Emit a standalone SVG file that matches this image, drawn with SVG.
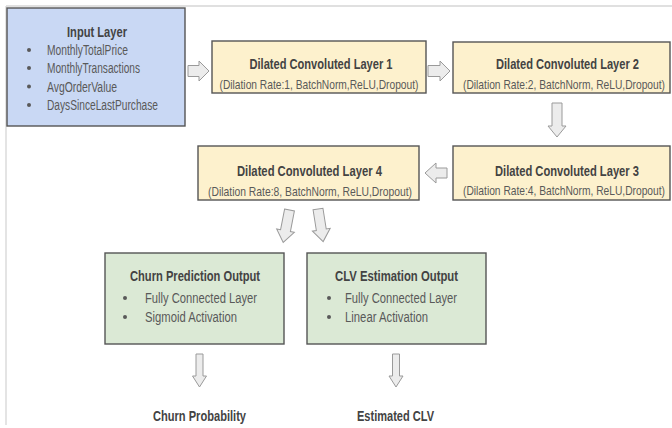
<svg xmlns="http://www.w3.org/2000/svg" width="672" height="428" viewBox="0 0 672 428">
<style>
text{font-family:"Liberation Sans Narrow","Liberation Sans",Arial,sans-serif;}
.t{font-size:15.5px;font-weight:bold;fill:#434343;text-anchor:middle;}
.s{font-size:13.5px;fill:#595959;text-anchor:middle;}
.i{font-size:14px;fill:#595959;}
.o{font-size:15px;font-weight:bold;fill:#434343;text-anchor:middle;}
.box{stroke:#555555;stroke-width:1.4;}
.blue{fill:#c9d8f4;}
.yel{fill:#fdf1cd;}
.grn{fill:#dbe9d5;}
.arr{fill:#ececec;stroke:#9a9a9a;stroke-width:1;stroke-linejoin:miter;}
.dot{fill:#595959;}
</style>
<rect width="672" height="428" fill="#ffffff"/>
<g id="page" stroke="#d6d6d6" stroke-width="1.3" fill="none">
<line x1="6" y1="6" x2="672" y2="6"/>
<line x1="6" y1="6" x2="6" y2="425"/>
</g>
<g id="input">
<rect class="box blue" x="7" y="8" width="178" height="118"/>
<text class="t" x="97" y="37" textLength="60" lengthAdjust="spacingAndGlyphs">Input Layer</text>
<circle class="dot" cx="29" cy="50" r="2"/><text class="i" x="47" y="55" textLength="81" lengthAdjust="spacingAndGlyphs">MonthlyTotalPrice</text>
<circle class="dot" cx="29" cy="68" r="2"/><text class="i" x="47" y="73" textLength="93" lengthAdjust="spacingAndGlyphs">MonthlyTransactions</text>
<circle class="dot" cx="29" cy="86.5" r="2"/><text class="i" x="47" y="91.5" textLength="70" lengthAdjust="spacingAndGlyphs">AvgOrderValue</text>
<circle class="dot" cx="29" cy="105" r="2"/><text class="i" x="47" y="110" textLength="111" lengthAdjust="spacingAndGlyphs">DaysSinceLastPurchase</text>
</g>
<g id="layer1">
<rect class="box yel" x="212" y="41" width="214" height="52"/>
<text class="t" x="321" y="68.5" textLength="143" lengthAdjust="spacingAndGlyphs">Dilated Convoluted Layer 1</text>
<text class="s" x="319" y="89" textLength="199" lengthAdjust="spacingAndGlyphs">(Dilation Rate:1, BatchNorm,ReLU,Dropout)</text>
</g>
<g id="layer2">
<rect class="box yel" x="453" y="42" width="217" height="51"/>
<text class="t" x="567.5" y="68.5" textLength="143" lengthAdjust="spacingAndGlyphs">Dilated Convoluted Layer 2</text>
<text class="s" x="564" y="89" textLength="202" lengthAdjust="spacingAndGlyphs">(Dilation Rate:2, BatchNorm, ReLU,Dropout)</text>
</g>
<g id="layer3">
<rect class="box yel" x="453" y="146" width="217" height="54"/>
<text class="t" x="567" y="175.5" textLength="144" lengthAdjust="spacingAndGlyphs">Dilated Convoluted Layer 3</text>
<text class="s" x="564" y="195" textLength="202" lengthAdjust="spacingAndGlyphs">(Dilation Rate:4, BatchNorm, ReLU,Dropout)</text>
</g>
<g id="layer4">
<rect class="box yel" x="198" y="146" width="221" height="54"/>
<text class="t" x="309.5" y="175.5" textLength="145" lengthAdjust="spacingAndGlyphs">Dilated Convoluted Layer 4</text>
<text class="s" x="310" y="196" textLength="204" lengthAdjust="spacingAndGlyphs">(Dilation Rate:8, BatchNorm, ReLU,Dropout)</text>
</g>
<g id="churn">
<rect class="box grn" x="105" y="253" width="179" height="91"/>
<text class="t" x="195" y="280.5" textLength="130" lengthAdjust="spacingAndGlyphs">Churn Prediction Output</text>
<circle class="dot" cx="125" cy="298" r="2"/><text class="i" x="145" y="303" textLength="112" lengthAdjust="spacingAndGlyphs">Fully Connected Layer</text>
<circle class="dot" cx="125" cy="317" r="2"/><text class="i" x="145" y="322" textLength="92" lengthAdjust="spacingAndGlyphs">Sigmoid Activation</text>
</g>
<g id="clv">
<rect class="box grn" x="307" y="253" width="179" height="91"/>
<text class="t" x="396.5" y="280.5" textLength="123" lengthAdjust="spacingAndGlyphs">CLV Estimation Output</text>
<circle class="dot" cx="329" cy="298" r="2"/><text class="i" x="345" y="303" textLength="112" lengthAdjust="spacingAndGlyphs">Fully Connected Layer</text>
<circle class="dot" cx="329" cy="317" r="2"/><text class="i" x="345" y="322" textLength="83" lengthAdjust="spacingAndGlyphs">Linear Activation</text>
</g>
<g id="out-churn">
<text class="o" x="199.5" y="420.5" textLength="93" lengthAdjust="spacingAndGlyphs">Churn Probability</text>
</g>
<g id="out-clv">
<text class="o" x="395.5" y="420.5" textLength="77" lengthAdjust="spacingAndGlyphs">Estimated CLV</text>
</g>
<g id="connectors">
<polygon class="arr" points="188,65.5 199,65.5 199,61 209,71 199,81 199,76.5 188,76.5"/>
<polygon class="arr" points="428,65.5 440,65.5 440,61 450,71 440,81 440,76.5 428,76.5"/>
<polygon class="arr" points="552,103 562,103 562,126 566,126 557,137 548,126 552,126"/>
<polygon class="arr" points="447,168 436,168 436,163 425,173 436,183 436,178 447,178"/>
<polygon class="arr" transform="translate(289.5,210) rotate(11)" points="-5,0 5,0 5,21 9,21 0,33 -9,21 -5,21"/>
<polygon class="arr" transform="translate(318,209) rotate(-9)" points="-5,0 5,0 5,21 9,21 0,33 -9,21 -5,21"/>
<polygon class="arr" points="196,354 203,354 203,376 206.5,376 199.5,387 192.5,376 196,376"/>
<polygon class="arr" points="392.5,354 399.5,354 399.5,376 403,376 396,387 389,376 392.5,376"/>
</g>
</svg>
